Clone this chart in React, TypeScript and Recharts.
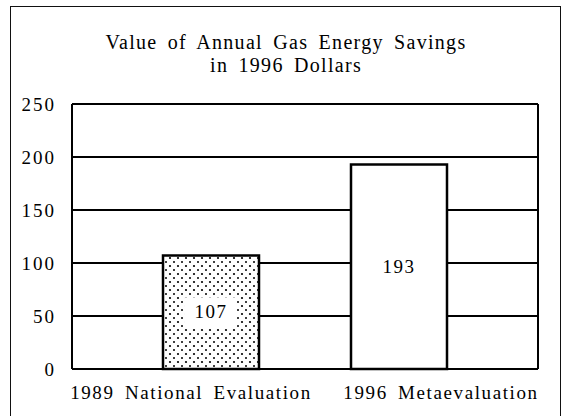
import React from "react";
import { BarChart, Bar, XAxis, YAxis, CartesianGrid, LabelList, Cell } from "recharts";

const categories = ["1989 National Evaluation", "1996 Metaevaluation"];
const savings = [107, 193];
const yTicks = [0, 50, 100, 150, 200, 250];
const titleLines = ["Value of Annual Gas Energy Savings", "in 1996 Dollars"];

const data = categories.map((name, i) => ({ name, value: savings[i] }));

const FONT = '"Liberation Serif", "Times New Roman", serif';
const labelShift = [-20, 42];
const barFills = ["url(#dots)", "#fff"];

const XTick = (props: any) => {
  const { x, y, payload, index } = props;
  return (
    <text
      x={x + (labelShift[index] ?? 0)}
      y={y}
      dy={22}
      textAnchor="middle"
      fontFamily={FONT}
      fontSize={19}
      letterSpacing={1.6}
      wordSpacing={4}
      fill="#000"
    >
      {payload.value}
    </text>
  );
};

const BarValueLabel = (props: any) => {
  const { x, y, width, height, value } = props;
  const cx = x + width / 2;
  const cy = y + height / 2;
  return (
    <g>
      <rect x={cx - 26} y={cy - 15} width={52} height={30} fill="#fff" />
      <text
        x={cx}
        y={cy}
        dy={6}
        textAnchor="middle"
        fontFamily={FONT}
        fontSize={19}
        letterSpacing={1.5}
        fill="#000"
      >
        {value}
      </text>
    </g>
  );
};

export default function App() {
  return (
    <div
      style={{
        position: "absolute",
        left: 0,
        top: 0,
        width: 564,
        height: 416,
        overflow: "hidden",
        background: "#fff",
        fontFamily: FONT,
      }}
    >
      <div
        style={{
          position: "absolute",
          left: 10,
          top: 6,
          width: 549,
          height: 440,
          border: "1.6px solid #111",
        }}
      />
      <div
        style={{
          position: "absolute",
          left: 0,
          top: 31,
          width: 572,
          textAlign: "center",
          fontSize: 20,
          lineHeight: "23px",
          letterSpacing: 1.3,
          wordSpacing: 4,
          color: "#000",
        }}
      >
        {titleLines.map((t) => (
          <div key={t}>{t}</div>
        ))}
      </div>
      <div style={{ position: "absolute", left: 0, top: 0 }}>
        <BarChart
          width={564}
          height={416}
          data={data}
          margin={{ top: 104, right: 26, bottom: 7, left: 0 }}
          barSize={96}
        >
          <defs>
            <pattern id="dots" width="8" height="8" patternUnits="userSpaceOnUse">
              <rect width="8" height="8" fill="#fff" />
              <circle cx="2" cy="2" r="1.1" fill="#000" />
              <circle cx="6" cy="6" r="1" fill="#000" />
            </pattern>
          </defs>
          <CartesianGrid
            stroke="#000"
            strokeWidth={2}
            verticalCoordinatesGenerator={(p: any) => [p.offset.left + p.offset.width]}
          />
          <XAxis
            dataKey="name"
            padding={{ left: 45, right: 45 }}
            axisLine={{ stroke: "#000", strokeWidth: 2 }}
            tickLine={false}
            tick={<XTick />}
            height={40}
            interval={0}
          />
          <YAxis
            domain={[0, 250]}
            ticks={yTicks}
            width={72}
            axisLine={{ stroke: "#000", strokeWidth: 2 }}
            tickLine={false}
            tickSize={0}
            tickMargin={16}
            tick={{ fill: "#000", fontSize: 19, fontFamily: FONT, letterSpacing: 2 }}
          />
          <Bar dataKey="value" stroke="#000" strokeWidth={2.5} isAnimationActive={false}>
            {data.map((d, i) => (
              <Cell key={d.name} fill={barFills[i]} />
            ))}
            <LabelList dataKey="value" content={<BarValueLabel />} />
          </Bar>
        </BarChart>
      </div>
    </div>
  );
}
